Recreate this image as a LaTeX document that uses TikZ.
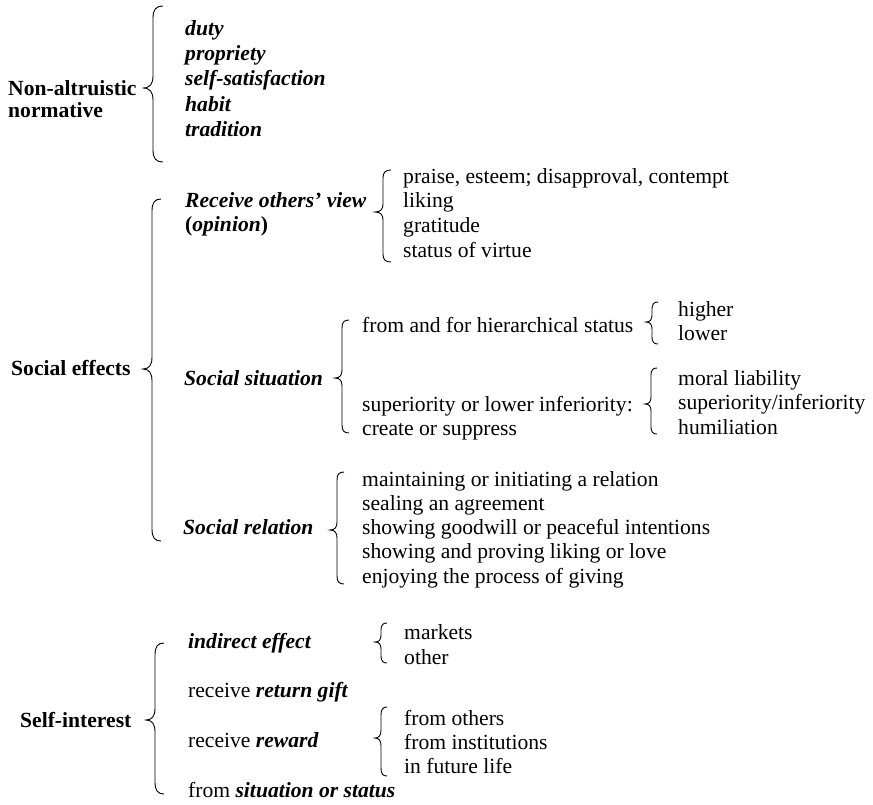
\documentclass[tikz,border=0pt]{standalone}
\usepackage{fontspec}
\setmainfont{Liberation Serif}
\tikzset{
  x=1pt, y=-1pt,
  txt/.style={anchor=base west, inner sep=0pt, font=\fontsize{21.6}{24}\selectfont},
  head/.style={txt, font=\fontsize{21.6}{24}\selectfont\bfseries},
  emph/.style={txt, font=\fontsize{21.6}{24}\selectfont\bfseries\itshape},
  bracestyle/.style={line width=0.9pt, black}
}
% left curly brace: #1 x of the stem, #2 top, #3 tip height, #4 bottom, #5 hook width, #6 curve length
\newcommand{\curlybrace}[6]{%
  \draw[bracestyle]
    ({#1+#5},#2) .. controls ({#1+0.3*#5},#2) and (#1,{#2+0.3*#6}) .. (#1,{#2+#6})
    -- (#1,{#3-#6}) .. controls (#1,{#3-0.35*#6}) and ({#1-0.3*#5},#3) .. ({#1-#5},#3)
    .. controls ({#1-0.3*#5},#3) and (#1,{#3+0.35*#6}) .. (#1,{#3+#6})
    -- (#1,{#4-#6}) .. controls (#1,{#4-0.3*#6}) and ({#1+0.3*#5},#4) .. ({#1+#5},#4);}
\begin{document}
\begin{tikzpicture}
\useasboundingbox (0,0) rectangle (873,804);

% --- Non-altruistic normative ---
\node[head] (na1) at (8,95) {Non-altruistic};
\node[head] (na2) at (8,117) {normative};
\curlybrace{153}{6}{88}{162}{10}{12}
\node[emph] (duty) at (185,35) {duty};
\node[emph] (prop) at (185,60) {propriety};
\node[emph] (self) at (185,85) {self-satisfaction};
\node[emph] (habit) at (185,111) {habit};
\node[emph] (trad) at (185,136) {tradition};

% --- Social effects ---
\node[head] (se) at (11,375) {Social effects};
\curlybrace{152}{199}{369}{541}{9}{12}

\node[emph] (rov) at (185,207) {Receive others’ view};
\node[head] (opin) at (185,231) {(\textit{opinion})};
\curlybrace{383}{170}{212}{262}{8}{8}
\node[txt] (r1) at (403,183) {praise, esteem; disapproval, contempt};
\node[txt] (r2) at (403,207) {liking};
\node[txt] (r3) at (403,232) {gratitude};
\node[txt] (r4) at (403,257) {status of virtue};

\node[emph] (ss) at (184,385) {Social situation};
\curlybrace{342}{320}{378}{433}{7}{8}
\node[txt] (hier) at (362,332) {from and for hierarchical status};
\curlybrace{652}{302}{322}{344}{6}{7}
\node[txt] (hi) at (678,316) {higher};
\node[txt] (lo) at (678,340) {lower};
\node[txt] (sup) at (362,411) {superiority or lower inferiority:};
\node[txt] (cre) at (362,435) {create or suppress};
\curlybrace{651}{368}{404}{434}{6}{7}
\node[txt] (m1) at (678,385) {moral liability};
\node[txt] (m2) at (678,409) {superiority/inferiority};
\node[txt] (m3) at (678,434) {humiliation};

\node[emph] (sr) at (183,534) {Social relation};
\curlybrace{337}{472}{530}{584}{7}{8}
\node[txt] (s1) at (362,486) {maintaining or initiating a relation};
\node[txt] (s2) at (362,510) {sealing an agreement};
\node[txt] (s3) at (362,534) {showing goodwill or peaceful intentions};
\node[txt] (s4) at (362,558) {showing and proving liking or love};
\node[txt] (s5) at (362,583) {enjoying the process of giving};

% --- Self-interest ---
\node[head] (si) at (20,727) {Self-interest};
\curlybrace{155}{643}{720}{794}{9}{12}
\node[emph] (ind) at (188,648) {indirect effect};
\curlybrace{381}{623}{642}{663}{6}{7}
\node[txt] (mk) at (404,639) {markets};
\node[txt] (ot) at (404,664) {other};
\node[txt] (rg) at (188,697) {receive \textbf{\textit{return gift}}};
\node[txt] (rw) at (188,747) {receive \textbf{\textit{reward}}};
\curlybrace{381}{707}{738}{776}{6}{8}
\node[txt] (f1) at (404,725) {from others};
\node[txt] (f2) at (404,749) {from institutions};
\node[txt] (f3) at (404,773) {in future life};
\node[txt] (fs) at (188,797) {from \textbf{\textit{situation or status}}};
\end{tikzpicture}
\end{document}
